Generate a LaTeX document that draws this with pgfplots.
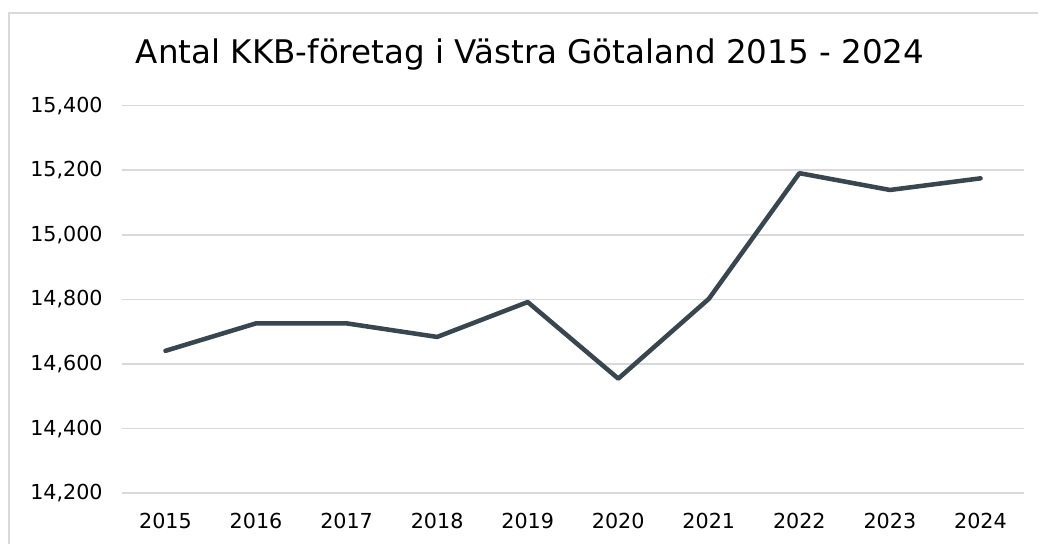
\documentclass[border=0pt]{standalone}
\usepackage{pgfplots}
\pgfplotsset{compat=1.18}
\usepackage{fontspec}
\setmainfont{DejaVu Sans}
\definecolor{gridc}{RGB}{217,217,217}
\definecolor{linec}{RGB}{55,70,79}
\definecolor{framec}{RGB}{217,217,217}
\begin{document}
\begin{tikzpicture}[x=1pt,y=1pt]
\useasboundingbox (0,0) rectangle (778.5,407.25);
\draw[framec, line width=1.2pt] (6.75,-2) -- (6.75,397.5) -- (780,397.5);
\node[font=\fontsize{24.4pt}{29pt}\selectfont, anchor=center] at (397.5,366) {Antal KKB-företag i Västra Götaland 2015 - 2024};
\begin{axis}[
  at={(91.5pt,37.3pt)}, anchor=south west,
  width=676.5pt, height=290.7pt, scale only axis,
  xmin=2014.52, xmax=2024.48,
  ymin=14200, ymax=15400,
  xtick={2015,...,2024},
  ytick={14200,14400,...,15400},
  scaled ticks=false,
  /pgf/number format/assume math mode=true,
  xticklabel style={font=\fontsize{15.5pt}{18pt}\selectfont, yshift=-11.5pt, /pgf/number format/1000 sep={}},
  yticklabel style={font=\fontsize{15.5pt}{18pt}\selectfont, xshift=-11pt, /pgf/number format/fixed, /pgf/number format/precision=0, /pgf/number format/1000 sep={,}},
  axis line style={draw=none},
  major tick length=0pt,
  ymajorgrids,
  grid style={gridc, line width=1.2pt},
  clip=false,
]
\addplot[linec, line width=3.4pt, line cap=round, line join=round] coordinates {
(2015,14641) (2016,14726) (2017,14726) (2018,14684) (2019,14792)
(2020,14555) (2021,14802) (2022,15191) (2023,15139) (2024,15175)
};
\end{axis}
\end{tikzpicture}
\end{document}
